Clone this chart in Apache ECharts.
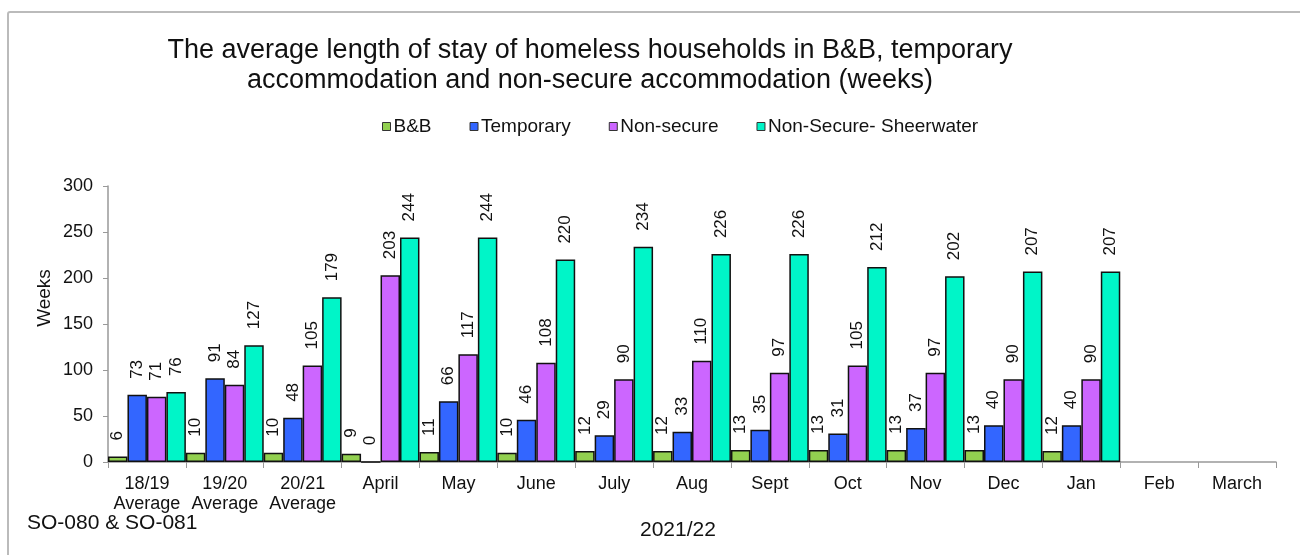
<!DOCTYPE html>
<html>
<head>
<meta charset="utf-8">
<script src="https://cdn.jsdelivr.net/npm/echarts@6/dist/echarts.min.js"></script>
<style>
  html, body { margin: 0; padding: 0; background: #fff; overflow: hidden; }
  #frame { position: absolute; left: 7px; top: 11px; width: 1400px; height: 700px; border: 2px solid #bbb; border-radius: 3px; }
  #chart { position: absolute; left: 0; top: 0; width: 1300px; height: 555px; }
</style>
</head>
<body>
<div id="frame"></div>
<div id="chart"></div>
<script>
const categories = ['18/19\nAverage', '19/20\nAverage', '20/21\nAverage', 'April', 'May', 'June', 'July', 'Aug', 'Sept', 'Oct', 'Nov', 'Dec', 'Jan', 'Feb', 'March']
const bnb = [6, 10, 10, 9, 11, 10, 12, 12, 13, 13, 13, 13, 12, null, null]
const temporary = [73, 91, 48, 0, 66, 46, 29, 33, 35, 31, 37, 40, 40, null, null]
const nonSecure = [71, 84, 105, 203, 117, 108, 90, 110, 97, 105, 97, 90, 90, null, null]
const sheerwater = [76, 127, 179, 244, 244, 220, 234, 226, 226, 212, 202, 207, 207, null, null]
const yTicks = [0, 50, 100, 150, 200, 250, 300]

const FONT = 'Liberation Sans, Arial, sans-serif'
const COLORS = ['#92d050', '#3366ff', '#cc66ff', '#00f5c8']

const chart = echarts.init(document.getElementById('chart'))

const mkSeries = (name, data, color) => ({
  name,
  type: 'bar',
  data,
  barGap: '0%',
  barCategoryGap: '0%',
  itemStyle: { color, borderColor: '#111', borderWidth: 1.5 },
  label: {
    show: true,
    position: 'top',
    rotate: 90,
    align: 'left',
    verticalAlign: 'middle',
    distance: 16,
    color: '#111',
    fontFamily: FONT,
    fontSize: 17
  }
})

chart.setOption({
  animation: false,
  title: {
    text: 'The average length of stay of homeless households in B&B, temporary\naccommodation and non-secure accommodation (weeks)',
    left: 585,
    top: 31,
    textAlign: 'center',
    textStyle: { fontFamily: FONT, fontSize: 27, fontWeight: 'normal', color: '#111', lineHeight: 30 }
  },
  legend: {
    left: 377,
    top: 112,
    itemWidth: 8,
    itemHeight: 8,
    itemGap: 38,
    icon: 'rect',
    itemStyle: { borderColor: '#333', borderWidth: 1 },
    textStyle: { fontFamily: FONT, fontSize: 19, color: '#111', padding: [0, 0, 0, -2] },
    data: ['B&B', 'Temporary', 'Non-secure', 'Non-Secure- Sheerwater']
  },
  grid: { left: 108, right: 24, top: 186, bottom: 93 },
  xAxis: {
    type: 'category',
    data: categories,
    axisLine: { lineStyle: { color: '#999', width: 1.5 } },
    axisTick: { show: true, alignWithLabel: false, length: 6, lineStyle: { color: '#999' } },
    axisLabel: { interval: 0, fontFamily: FONT, fontSize: 18, color: '#111', lineHeight: 20, margin: 12 }
  },
  yAxis: {
    type: 'value',
    min: yTicks[0],
    max: yTicks[yTicks.length - 1],
    interval: 50,
    axisLine: { show: true, lineStyle: { color: '#999', width: 1.5 } },
    axisTick: { show: true, length: 5, lineStyle: { color: '#999' } },
    splitLine: { show: false },
    axisLabel: { fontFamily: FONT, fontSize: 18, color: '#111', margin: 15 }
  },
  graphic: [
    { type: 'text', x: 45, y: 298, rotation: Math.PI / 2, style: { text: 'Weeks', fontFamily: FONT, fontSize: 19, fill: '#111', align: 'center', verticalAlign: 'middle' } },
    { type: 'text', x: 27, y: 523, style: { text: 'SO-080 & SO-081', fontFamily: FONT, fontSize: 21, fill: '#111', verticalAlign: 'middle' } },
    { type: 'text', x: 640, y: 530, style: { text: '2021/22', fontFamily: FONT, fontSize: 21, fill: '#111', verticalAlign: 'middle' } }
  ],
  series: [
    mkSeries('B&B', bnb, COLORS[0]),
    mkSeries('Temporary', temporary, COLORS[1]),
    mkSeries('Non-secure', nonSecure, COLORS[2]),
    mkSeries('Non-Secure- Sheerwater', sheerwater, COLORS[3])
  ]
})
</script>
</body>
</html>
